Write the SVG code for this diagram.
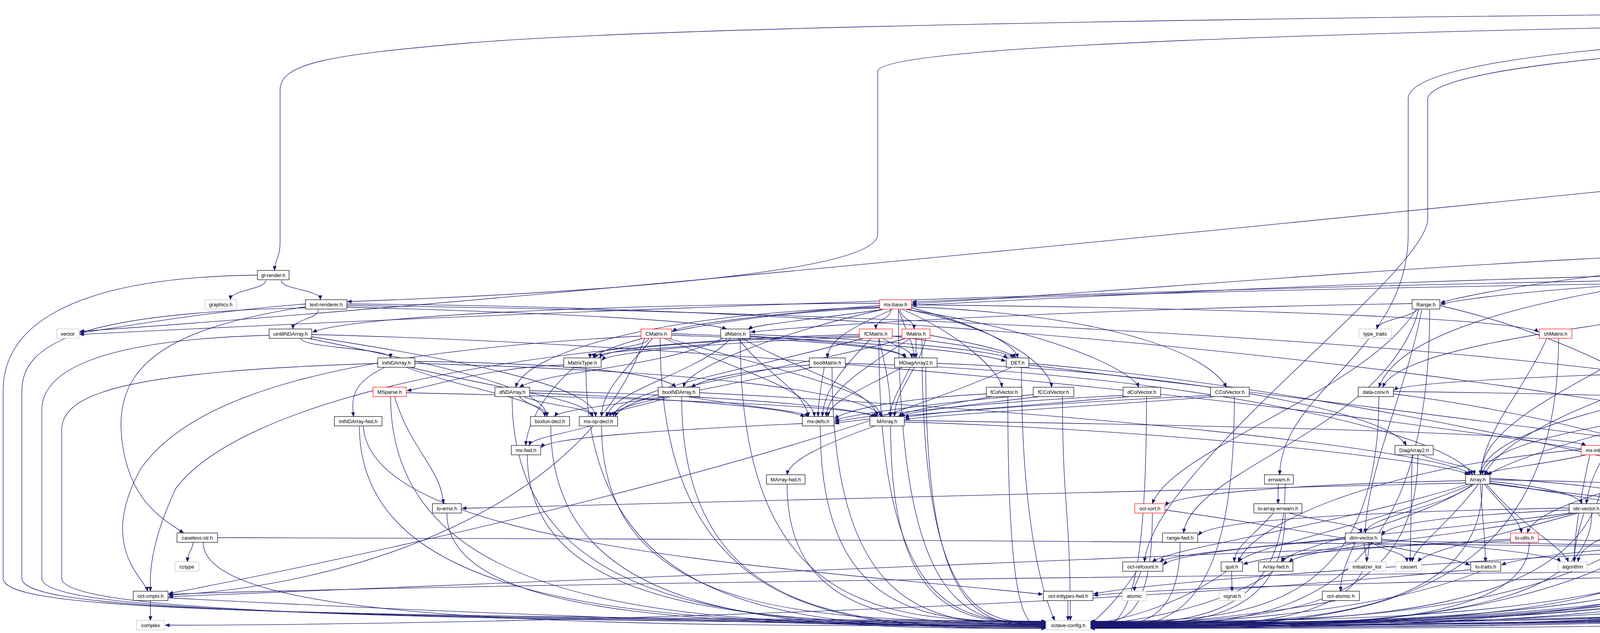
<svg xmlns="http://www.w3.org/2000/svg" width="7432" height="1620" viewBox="0 0 7432 1620">
<style>
.bg{fill:#fff}
#edges path{fill:none;stroke:#191970;stroke-width:1.3;marker-end:url(#ah)}
g.nd rect{fill:#fff;stroke-width:1.2}
g.n rect{stroke:#000}
g.r rect{stroke:#ff0000}
g.g rect{stroke:#bfbfbf}
g.root rect{fill:#bfbfbf;stroke:#000}
g.nd text{font-family:"Liberation Sans",Arial,Helvetica,sans-serif;font-size:13px;text-anchor:middle;fill:#000}
</style>
<defs>
<marker id="ah" markerUnits="userSpaceOnUse" markerWidth="12" markerHeight="9" refX="11" refY="4.5" orient="auto">
<path d="M0,0 L11,4.5 L0,9 Z" fill="#191970" stroke="#191970" stroke-width="0.8"/>
</marker>
</defs>
<rect class="bg" x="0" y="0" width="7432" height="1620"/>
<g id="edges">
<path d="M6760,46 C6760,70 6802,70 6802,96"/>
<path d="M6814,36 C7050,50 7300,90 7350,170"/>
<path d="M6808,46 C7000,90 7000,300 6990,692"/>
<path d="M6814,30 C7150,60 7160,120 7160,300 L7160,760 C7160,900 6700,1200 6020,1376"/>
<path d="M6740,46 C6740,700 5105,900 5105,1513"/>
<path d="M6720,46 C6720,800 4967,900 4967,1438"/>
<path d="M6685,22 C4000,30 1800,60 1200,110 C850,140 717,160 717,230 L717,620 C717,660 703,665 703,692"/>
<path d="M6685,28 C4500,60 2300,90 2247,180 L2247,600 C2247,700 1500,750 889,772"/>
<path d="M6685,34 C5000,60 3620,100 3605,250 L3605,600 C3605,900 3280,1000 3276,1215"/>
<path d="M6700,46 C6000,200 4450,600 4410,1215"/>
<path d="M6685,40 C5500,70 3700,110 3655,250 L3655,560 C3655,700 2950,1200 2930,1438"/>
<path d="M6735,110 C6300,115 5900,182 5702,182"/>
<path d="M6820,120 C6820,780 5870,780 5870,1438"/>
<path d="M6740,120 C5500,300 4500,600 4470,991"/>
<path d="M5675,194 C5675,220 5703,220 5703,245"/>
<path d="M5655,194 C5655,257 5619,257 5619,320"/>
<path d="M5640,194 C5640,294 4802,294 4802,394"/>
<path d="M5645,194 C5645,331 4867,331 4867,469"/>
<path d="M5627,185 C5000,200 4637,300 4637,469"/>
<path d="M5690,194 C5690,518 6022,518 6022,842"/>
<path d="M5695,194 C5695,406 6535,406 6535,618"/>
<path d="M5630,194 C5630,592 4462,592 4462,991"/>
<path d="M5685,194 C5685,592 5967,592 5967,991"/>
<path d="M5680,194 C5680,816 5861,816 5861,1438"/>
<path d="M5650,194 C5650,406 5093,406 5093,618"/>
<path d="M5690,269 C5690,295 5625,295 5625,320"/>
<path d="M5705,269 L5705,480 C5705,580 5300,610 5118,628"/>
<path d="M5666,255 C5200,260 4700,350 4650,469"/>
<path d="M5741,257 C5950,280 5880,900 5875,1438"/>
<path d="M5741,262 C5950,300 5970,700 5967,991"/>
<path d="M5612,344 C5612,369 5609,369 5609,394"/>
<path d="M5590,344 C5590,480 5100,480 5100,618"/>
<path d="M5573,332 C5000,340 4700,400 4645,469"/>
<path d="M5573,328 C5200,335 4900,380 4824,402"/>
<path d="M5573,336 C5200,380 5000,440 4898,476"/>
<path d="M5580,344 C5300,600 4500,700 4470,991"/>
<path d="M5660,344 C5660,900 5984,900 5984,1364"/>
<path d="M5650,344 C5650,900 5855,900 5855,1438"/>
<path d="M5640,344 C5640,700 5960,700 5960,991"/>
<path d="M5666,334 C6000,360 6022,600 6022,842"/>
<path d="M5666,330 C6300,350 6535,450 6535,618"/>
<path d="M5573,340 C4000,500 1500,760 204,848"/>
<path d="M5600,418 C5600,520 5093,520 5093,618"/>
<path d="M5571,404 C5000,410 4700,440 4664,474"/>
<path d="M5571,410 C5200,420 5000,460 4898,480"/>
<path d="M5585,418 C5400,700 4500,800 4478,991"/>
<path d="M5625,418 C5625,900 5990,900 5990,1364"/>
<path d="M5640,418 C5640,900 5865,900 5865,1438"/>
<path d="M4625,493 C4625,518 4568,518 4568,543"/>
<path d="M4650,493 C4650,556 5080,556 5080,618"/>
<path d="M4645,493 C4645,705 4840,705 4840,916"/>
<path d="M4662,482 C5300,500 5850,900 5858,1438"/>
<path d="M4625,493 C4500,600 4460,800 4455,991"/>
<path d="M4596,550 C4800,560 5070,590 5075,618"/>
<path d="M4575,567 C4575,741 4830,741 4830,916"/>
<path d="M4560,567 C4560,779 4452,779 4452,991"/>
<path d="M4545,567 C4400,900 3800,1000 3790,1215"/>
<path d="M5075,642 C5075,667 4900,667 4900,692"/>
<path d="M5088,642 C5088,667 5055,667 5055,692"/>
<path d="M5080,642 C5080,779 4855,779 4850,916"/>
<path d="M5095,642 C5095,779 5053,779 5053,916"/>
<path d="M5110,642 C5250,800 5240,950 5216,1066"/>
<path d="M5105,642 C5130,1000 5200,1100 5226,1364"/>
<path d="M5070,636 C4700,700 4500,800 4470,991"/>
<path d="M5085,642 C5000,1000 4650,1100 4642,1438"/>
<path d="M5116,630 C5700,700 5861,1000 5861,1438"/>
<path d="M5116,626 C5800,680 5984,1000 5984,1364"/>
<path d="M5116,622 C5800,640 5967,800 5967,991"/>
<path d="M5070,640 C4600,800 4100,1000 4061,1289"/>
<path d="M5070,632 C4200,700 3600,800 3530,991"/>
<path d="M5070,628 C4000,640 3000,740 2335,777"/>
<path d="M5070,630 C4300,660 3800,740 3688,775"/>
<path d="M4890,716 C4890,816 4850,816 4848,916"/>
<path d="M4910,716 C4910,816 5040,816 5040,916"/>
<path d="M4885,716 C4800,850 4500,900 4470,991"/>
<path d="M4905,716 C4950,1100 4650,1200 4645,1438"/>
<path d="M4939,700 C5800,800 6300,1100 6312,1438"/>
<path d="M4939,704 C5600,800 5850,1100 5856,1438"/>
<path d="M4939,708 C5700,800 5980,1000 5980,1364"/>
<path d="M4939,712 C5600,760 5960,850 5962,991"/>
<path d="M4860,700 C4300,710 3800,750 3688,779"/>
<path d="M4870,716 C4500,800 3600,850 3540,991"/>
<path d="M4860,696 C3800,700 2800,760 2335,781"/>
<path d="M4860,708 C3500,720 1500,790 204,856"/>
<path d="M4920,716 C5100,850 5200,950 5205,1066"/>
<path d="M4808,930 C4600,940 4500,970 4483,997"/>
<path d="M4830,940 C4700,1200 4650,1300 4640,1438"/>
<path d="M4880,935 C5400,1000 5840,1200 5850,1438"/>
<path d="M4808,936 C4200,1000 3800,1100 3790,1215"/>
<path d="M5006,928 C4700,935 4550,970 4483,1001"/>
<path d="M5065,940 C5065,1003 5210,1003 5210,1066"/>
<path d="M5030,940 C4800,1200 4660,1300 4650,1438"/>
<path d="M5090,940 C5500,1100 5850,1200 5852,1438"/>
<path d="M5100,925 C5700,935 5950,960 5960,991"/>
<path d="M5010,940 C4400,1050 3800,1100 3795,1215"/>
<path d="M5006,934 C4300,950 3600,970 3569,999"/>
<path d="M5020,940 C4500,1200 3950,1250 3910,1364"/>
<path d="M5240,1090 C5400,1300 5850,1350 5845,1438"/>
<path d="M4390,1239 C4390,1264 4330,1264 4330,1289"/>
<path d="M4450,1225 C5200,1240 5900,1300 5947,1364"/>
<path d="M4380,1239 C4300,1350 4050,1350 4040,1438"/>
<path d="M4940,1388 C4940,1413 4960,1413 4960,1438"/>
<path d="M4960,1388 C5050,1450 5100,1470 5105,1513"/>
<path d="M4890,1388 C4800,1420 4700,1430 4673,1446"/>
<path d="M4976,1378 C5500,1400 6200,1420 6281,1446"/>
<path d="M4976,1382 C5800,1400 7000,1500 7091,1598"/>
<path d="M4875,1376 C4000,1420 3000,1480 2800,1520"/>
<path d="M4875,1372 C4300,1380 3900,1420 3844,1446"/>
<path d="M4976,1374 C5400,1380 5800,1400 5832,1446"/>
<path d="M5186,1380 C4900,1400 4700,1430 4673,1450"/>
<path d="M5266,1380 C5600,1400 5800,1430 5832,1450"/>
<path d="M4967,1462 L4967,1513"/>
<path d="M4990,1462 C5040,1480 5090,1490 5100,1513"/>
<path d="M5016,1455 C6000,1480 7000,1560 7091,1596"/>
<path d="M4919,1458 C3000,1470 1000,1500 432,1521"/>
<path d="M4919,1462 C4000,1480 3000,1500 2800,1524"/>
<path d="M5003,1530 C6000,1560 7000,1590 7091,1602"/>
<path d="M6560,642 C6560,667 6586,667 6586,692"/>
<path d="M6579,632 C6800,650 6950,670 6960,692"/>
<path d="M6575,642 C6750,700 6720,850 6615,916"/>
<path d="M6510,642 C6350,900 6300,1300 5890,1448"/>
<path d="M6492,626 C5500,640 4600,900 4483,1005"/>
<path d="M6492,634 C5000,700 3900,1000 3800,1215"/>
<path d="M6492,630 C5600,660 4950,850 4882,920"/>
<path d="M6588,716 L6590,767"/>
<path d="M6570,716 C6520,760 6530,800 6538,842"/>
<path d="M6552,704 C5000,706 3000,740 2335,773"/>
<path d="M6010,866 C5990,1200 5900,1350 5870,1438"/>
<path d="M5973,860 C5000,880 4000,1100 3808,1215"/>
<path d="M5973,850 C5400,860 5000,900 4882,924"/>
<path d="M6564,928 C5500,940 4700,980 4483,999"/>
<path d="M6590,940 C6550,1200 6400,1350 6330,1438"/>
<path d="M815,792 C815,817 750,817 750,842"/>
<path d="M782,785 C500,830 300,900 310,1100 C320,1280 420,1330 470,1364"/>
<path d="M888,782 C2500,800 4000,900 4441,999"/>
<path d="M888,778 C3000,790 5000,1100 5832,1444"/>
<path d="M888,786 C1400,800 1800,820 1860,842"/>
<path d="M782,778 C500,800 300,840 204,852"/>
<path d="M680,718 C680,741 590,741 590,767"/>
<path d="M720,718 C720,741 820,741 820,767"/>
<path d="M770,866 C770,891 1000,891 1000,916"/>
<path d="M798,856 C2500,900 4800,1200 4900,1364"/>
<path d="M790,866 C1200,950 1400,1000 1400,1066"/>
<path d="M798,862 C1300,940 1520,1000 1525,1066"/>
<path d="M985,940 C900,980 900,1020 905,1066"/>
<path d="M1062,930 C1800,950 2200,1000 2260,1066"/>
<path d="M1062,925 C1500,930 1700,960 1730,991"/>
<path d="M1050,940 C1300,1000 1500,1020 1518,1066"/>
<path d="M1040,940 C1200,1000 1390,1020 1395,1066"/>
<path d="M1010,1015 C1050,1150 1130,1200 1135,1289"/>
<path d="M1040,1005 C1700,1020 2200,1040 2245,1066"/>
<path d="M1443,934 C1250,940 1100,990 1042,1000"/>
<path d="M1470,940 C1400,1000 1350,1080 1346,1140"/>
<path d="M1660,866 C1660,891 1510,891 1510,916"/>
<path d="M1670,866 C1600,950 1540,1000 1540,1066"/>
<path d="M1700,866 C1900,950 2080,1000 2085,1066"/>
<path d="M1710,866 C2000,950 2250,1000 2255,1066"/>
<path d="M1719,854 C2200,870 2500,900 2574,924"/>
<path d="M1719,858 C2100,870 2300,890 2320,916"/>
<path d="M1650,866 C1500,1300 900,1500 432,1523"/>
<path d="M1641,860 C900,900 500,1000 360,1200 C250,1400 370,1480 378,1513"/>
<path d="M1860,866 C1860,891 1520,891 1520,916"/>
<path d="M1850,866 C1700,940 1400,950 1330,991"/>
<path d="M1870,866 C1800,950 1560,1000 1555,1066"/>
<path d="M1890,866 C1950,950 2060,1000 2070,1066"/>
<path d="M1900,866 C2050,950 2240,1000 2245,1066"/>
<path d="M1920,856 C2300,870 2550,900 2580,916"/>
<path d="M1920,860 C2150,875 2310,890 2315,916"/>
<path d="M2200,860 C1800,870 1550,890 1535,916"/>
<path d="M2200,856 C1200,880 600,1050 450,1250 C380,1400 384,1480 385,1513"/>
<path d="M2260,866 C2300,891 2330,891 2335,916"/>
<path d="M2284,860 C2450,880 2580,900 2595,916"/>
<path d="M2230,866 C2150,950 2110,1000 2105,1066"/>
<path d="M2250,866 C2270,950 2280,1000 2280,1066"/>
<path d="M2210,866 C1900,950 1580,1000 1570,1066"/>
<path d="M2345,866 L2345,916"/>
<path d="M2381,858 C2500,880 2590,900 2600,916"/>
<path d="M2309,860 C1900,870 1560,900 1541,922"/>
<path d="M2330,866 C2200,950 2120,1000 2115,1066"/>
<path d="M2370,866 C2350,950 2290,1000 2290,1066"/>
<path d="M2320,866 C2000,950 1600,1000 1575,1066"/>
<path d="M2252,782 C2000,800 1750,830 1721,848"/>
<path d="M2260,792 C2100,815 1940,830 1915,842"/>
<path d="M2280,792 C2280,817 2242,817 2242,842"/>
<path d="M2305,792 C2305,817 2340,817 2340,842"/>
<path d="M2285,792 C2150,850 2120,880 2118,916"/>
<path d="M2252,788 C1900,800 1560,870 1520,916"/>
<path d="M2252,786 C1700,800 1350,900 1320,991"/>
<path d="M2260,792 C2000,850 1760,940 1750,991"/>
<path d="M2320,792 C2700,850 2900,950 2915,991"/>
<path d="M2333,785 C2900,810 3100,920 3140,991"/>
<path d="M2310,792 C2450,850 2560,950 2565,991"/>
<path d="M2325,792 C2600,850 2690,950 2692,991"/>
<path d="M2333,780 C3300,790 3900,820 3939,850"/>
<path d="M2333,788 C2500,830 2600,880 2605,916"/>
<path d="M2300,792 C2320,850 2340,880 2340,916"/>
<path d="M2252,776 C1500,780 900,810 800,850"/>
<path d="M2072,934 C1900,950 1800,970 1770,991"/>
<path d="M2110,940 C2100,1000 2095,1030 2094,1066"/>
<path d="M2080,940 C1800,1000 1580,1030 1560,1066"/>
<path d="M2164,930 C3000,950 3700,1100 3770,1215"/>
<path d="M2399,930 C3000,950 3550,1050 3600,1140"/>
<path d="M2330,940 C2300,1000 2280,1030 2278,1066"/>
<path d="M2310,940 C2200,1000 2120,1030 2120,1066"/>
<path d="M2590,940 C2000,1200 800,1450 432,1519"/>
<path d="M2634,930 C3500,1000 4800,1300 4940,1438"/>
<path d="M2634,934 C4000,1100 6800,1450 7091,1592"/>
<path d="M1330,1015 C1350,1040 1400,1040 1400,1066"/>
<path d="M1340,1015 C1400,1040 1510,1040 1515,1066"/>
<path d="M1356,1005 C1700,1020 2000,1040 2060,1066"/>
<path d="M1356,1000 C1800,1010 2200,1040 2240,1068"/>
<path d="M1700,1015 C1550,1040 1430,1050 1420,1066"/>
<path d="M1715,1015 C1650,1040 1560,1050 1550,1066"/>
<path d="M1760,1015 C1900,1040 2050,1050 2070,1066"/>
<path d="M1791,1005 C2700,1050 3700,1150 3765,1215"/>
<path d="M2540,1015 C2400,1040 2320,1050 2300,1066"/>
<path d="M2525,1008 C2300,1020 2160,1050 2137,1072"/>
<path d="M2660,1015 C2450,1040 2320,1055 2305,1066"/>
<path d="M2645,1010 C2400,1030 2180,1060 2137,1076"/>
<path d="M2890,1015 C2600,1040 2330,1060 2317,1070"/>
<path d="M2875,1012 C2500,1030 2200,1065 2137,1080"/>
<path d="M3110,1015 C2800,1040 2340,1065 2317,1074"/>
<path d="M3099,1012 C2700,1030 2200,1070 2137,1084"/>
<path d="M1510,1090 C1450,1110 1360,1120 1355,1140"/>
<path d="M2054,1084 C1700,1100 1400,1120 1386,1146"/>
<path d="M2240,1090 C2100,1140 2020,1180 2015,1215"/>
<path d="M2315,1080 C3000,1100 3700,1180 3760,1215"/>
<path d="M2315,1076 C3200,1090 4000,1110 4060,1140"/>
<path d="M930,1091 C950,1400 2000,1450 2669,1521"/>
<path d="M495,1388 C490,1413 480,1413 480,1438"/>
<path d="M557,1376 C2000,1380 5000,1390 5832,1442"/>
<path d="M385,1537 L385,1588"/>
<path d="M3630,792 C3600,817 3530,817 3525,842"/>
<path d="M3615,777 C2800,790 2100,830 1922,850"/>
<path d="M3640,792 C3600,1000 3500,1200 3495,1364"/>
<path d="M3625,792 C3500,1000 3000,1150 2950,1289"/>
<path d="M3632,792 C3550,1100 3050,1200 3030,1364"/>
<path d="M3686,782 C4200,900 4600,1200 4630,1438"/>
<path d="M3960,866 C3900,1000 3800,1100 3790,1215"/>
<path d="M3567,1002 C4300,1010 5000,1040 5169,1072"/>
<path d="M3567,1008 C4300,1100 5000,1400 5080,1513"/>
<path d="M3640,1164 C3700,1190 3770,1190 3775,1215"/>
<path d="M3615,1164 L3610,1438"/>
<path d="M4060,1164 C3950,1190 3820,1200 3800,1215"/>
<path d="M4070,1164 C4040,1300 4030,1380 4030,1438"/>
<path d="M4048,1150 C3500,1200 3200,1350 3170,1438"/>
<path d="M4140,1164 C4400,1250 4850,1300 4900,1364"/>
<path d="M4146,1156 C4300,1170 4380,1190 4395,1215"/>
<path d="M3272,1239 L3272,1289"/>
<path d="M3752,1230 C3300,1240 3000,1265 2984,1295"/>
<path d="M3814,1232 C3950,1245 4040,1265 4050,1289"/>
<path d="M3770,1239 C3700,1300 3500,1320 3495,1364"/>
<path d="M3800,1239 C3850,1300 3890,1330 3895,1364"/>
<path d="M3760,1239 C3400,1350 3000,1400 2950,1438"/>
<path d="M3770,1239 C3500,1350 3200,1400 3170,1438"/>
<path d="M3775,1239 C3600,1350 3300,1400 3280,1438"/>
<path d="M3785,1239 C3700,1350 3620,1400 3615,1438"/>
<path d="M3790,1239 C3795,1340 3800,1340 3803,1438"/>
<path d="M3805,1239 C3900,1350 4000,1400 4015,1438"/>
<path d="M3752,1236 C2500,1260 1500,1290 1183,1301"/>
<path d="M3814,1236 C4300,1300 4600,1400 4611,1446"/>
<path d="M3814,1228 C4800,1240 5700,1380 5832,1440"/>
<path d="M3814,1224 C4100,1240 4250,1270 4281,1295"/>
<path d="M3814,1238 C4300,1300 4900,1340 4999,1370"/>
<path d="M2982,1305 C3300,1350 3700,1420 3763,1446"/>
<path d="M3300,1313 C3400,1340 3480,1340 3485,1364"/>
<path d="M3260,1313 C3200,1380 3160,1400 3160,1438"/>
<path d="M4030,1313 C3700,1380 3350,1400 3300,1438"/>
<path d="M4017,1305 C3700,1320 3550,1340 3539,1370"/>
<path d="M4017,1300 C3500,1310 3100,1330 3068,1370"/>
<path d="M4105,1302 C4500,1320 4850,1340 4880,1364"/>
<path d="M4020,1313 C3500,1380 3000,1410 2970,1438"/>
<path d="M4090,1313 C4150,1400 4185,1450 4188,1513"/>
<path d="M4040,1313 C3800,1380 3650,1410 3630,1438"/>
<path d="M4055,1313 C4040,1360 4030,1400 4030,1438"/>
<path d="M4105,1306 C5000,1330 5800,1360 5947,1372"/>
<path d="M4105,1310 C4400,1380 4600,1410 4620,1438"/>
<path d="M3492,1388 C3492,1413 3499,1413 3499,1438"/>
<path d="M3510,1388 C3550,1413 3600,1413 3602,1438"/>
<path d="M3537,1380 C3800,1400 3980,1420 3995,1438"/>
<path d="M3470,1388 C3400,1413 3290,1413 3285,1438"/>
<path d="M3444,1380 C3200,1400 3000,1420 2979,1446"/>
<path d="M3470,1388 C3440,1450 3432,1480 3432,1513"/>
<path d="M3537,1384 C4500,1400 5500,1430 5832,1448"/>
<path d="M3867,1384 C2500,1450 1000,1510 432,1527"/>
<path d="M3867,1380 C3500,1400 3250,1420 3183,1444"/>
<path d="M3938,1380 C4800,1400 5600,1430 5832,1452"/>
<path d="M2920,1462 C2915,1488 2905,1488 2904,1513"/>
<path d="M3153,1462 L3154,1513"/>
<path d="M3765,1458 C2500,1580 900,1600 423,1600"/>
<path d="M2910,1462 C2850,1550 2810,1580 2792,1598"/>
<path d="M3140,1462 C3000,1560 2850,1590 2792,1596"/>
<path d="M3260,1462 C3100,1570 2850,1595 2792,1600"/>
<path d="M3790,1462 C3500,1580 3000,1598 2792,1602"/>
<path d="M2734,1537 L2734,1588"/>
<path d="M3420,1537 C3200,1580 2900,1602 2792,1604"/>
<path d="M4170,1537 C3800,1590 3000,1606 2792,1606"/>
<path d="M430,1530 C1000,1560 2000,1604 2677,1604"/>
<path d="M659,704 C150,710 8,850 8,1000 L8,1480 C8,1560 600,1575 2677,1590"/>
<path d="M782,788 C200,800 56,880 56,1000 L56,1480 C56,1560 700,1580 2677,1592"/>
<path d="M689,858 C250,870 107,950 107,1050 L107,1480 C107,1560 800,1585 2677,1594"/>
<path d="M967,930 C350,950 158,1000 158,1100 L158,1480 C158,1560 900,1590 2677,1596"/>
<path d="M920,1091 C920,1598 1800,1598 2677,1598"/>
<path d="M1000,1015 C1000,1600 1840,1600 2677,1600"/>
<path d="M520,1388 C520,1602 1600,1602 2677,1602"/>
<path d="M1500,940 C1500,1606 2090,1606 2677,1606"/>
<path d="M1690,866 C1690,1608 2185,1608 2677,1608"/>
<path d="M1895,866 C1895,1590 2287,1590 2677,1590"/>
<path d="M2250,866 C2250,1592 2465,1592 2677,1592"/>
<path d="M2360,866 C2360,1594 2520,1594 2677,1594"/>
<path d="M2300,792 C2300,1596 2490,1596 2677,1596"/>
<path d="M2130,940 C2130,1598 2405,1598 2677,1598"/>
<path d="M2370,940 C2370,1600 2520,1600 2677,1600"/>
<path d="M2615,940 C2615,1300 2660,1500 2700,1588"/>
<path d="M1311,1015 C1311,1602 1995,1602 2677,1602"/>
<path d="M1745,1015 C1745,1604 2212,1604 2677,1604"/>
<path d="M2580,1015 C2580,1606 2630,1606 2677,1606"/>
<path d="M1410,1090 C1410,1608 2045,1608 2677,1608"/>
<path d="M1540,1090 C1540,1590 2110,1590 2677,1590"/>
<path d="M2100,1090 C2100,1592 2390,1592 2677,1592"/>
<path d="M2280,1090 C2280,1594 2480,1594 2677,1594"/>
<path d="M1350,1164 C1350,1596 2015,1596 2677,1596"/>
<path d="M2015,1239 C2015,1598 2347,1598 2677,1598"/>
<path d="M1144,1313 C1144,1600 1912,1600 2677,1600"/>
<path d="M2720,1015 C2720,1300 2740,1300 2740,1588"/>
<path d="M7380,194 C7380,1600 5085,1600 2792,1600"/>
<path d="M6850,120 C6850,1602 4820,1602 2792,1602"/>
<path d="M5660,194 C5660,1594 4225,1594 2792,1594"/>
<path d="M5720,269 C5720,1596 4255,1596 2792,1596"/>
<path d="M5640,344 C5640,1598 4215,1598 2792,1598"/>
<path d="M5620,418 C5620,1604 4205,1604 2792,1604"/>
<path d="M4650,493 C4650,1606 3720,1606 2792,1606"/>
<path d="M4580,567 C4580,1592 3685,1592 2792,1592"/>
<path d="M5100,642 C5100,1608 3945,1608 2792,1608"/>
<path d="M4915,716 C4915,1590 3852,1590 2792,1590"/>
<path d="M4860,940 C4860,1594 3825,1594 2792,1594"/>
<path d="M5070,940 C5070,1596 3930,1596 2792,1596"/>
<path d="M5230,1090 C5230,1598 4010,1598 2792,1598"/>
<path d="M4420,1239 C4420,1600 3605,1600 2792,1600"/>
<path d="M4950,1388 C4950,1602 3870,1602 2792,1602"/>
<path d="M5240,1388 C5240,1604 4015,1604 2792,1604"/>
<path d="M4990,1462 C4990,1606 3890,1606 2792,1606"/>
<path d="M4985,1537 C4985,1608 3887,1608 2792,1608"/>
<path d="M6550,642 C6550,1592 4670,1592 2792,1592"/>
<path d="M6600,716 C6600,1594 4695,1594 2792,1594"/>
<path d="M6040,866 C6040,1596 4415,1596 2792,1596"/>
<path d="M6560,866 C6560,1598 4675,1598 2792,1598"/>
<path d="M6620,940 C6620,1600 4705,1600 2792,1600"/>
<path d="M3660,792 C3660,1602 3225,1602 2792,1602"/>
<path d="M3990,866 C3990,1604 3390,1604 2792,1604"/>
<path d="M2935,1015 C2935,1606 2862,1606 2792,1606"/>
<path d="M3160,1015 C3160,1608 2975,1608 2792,1608"/>
<path d="M3530,1015 C3530,1590 3160,1590 2792,1590"/>
<path d="M3630,1164 C3630,1592 3210,1592 2792,1592"/>
<path d="M4110,1164 C4110,1594 3450,1594 2792,1594"/>
<path d="M3290,1239 C3290,1596 3040,1596 2792,1596"/>
<path d="M3795,1239 C3795,1598 3292,1598 2792,1598"/>
<path d="M2950,1313 C2950,1594 2870,1594 2792,1594"/>
<path d="M3290,1313 C3290,1600 3040,1600 2792,1600"/>
<path d="M4075,1313 C4075,1602 3432,1602 2792,1602"/>
<path d="M3021,1388 C3021,1604 2905,1604 2792,1604"/>
<path d="M3505,1388 C3505,1606 3147,1606 2792,1606"/>
<path d="M3915,1388 C3915,1608 3352,1608 2792,1608"/>
</g>
<g id="n-root" class="nd root"><rect x="6685" y="6" width="129" height="39"/><text x="6749.5" y="21">libinterp/corefcn/gl</text><text x="6749.5" y="37">-render.cc</text></g>
<g id="n-interpreter-private" class="nd n"><rect x="6735" y="96" width="134" height="24"/><text x="6802" y="112.5">interpreter-private.h</text></g>
<g id="n-oct-opengl" class="nd n"><rect x="7312" y="170" width="92" height="24"/><text x="7358" y="186.5">oct-opengl.h</text></g>
<g id="n-symtab" class="nd n"><rect x="5627" y="170" width="73" height="24"/><text x="5663.5" y="186.5">symtab.h</text></g>
<g id="n-fcn-info" class="nd n"><rect x="5666" y="245" width="75" height="24"/><text x="5703.5" y="261.5">fcn-info.h</text></g>
<g id="n-symscope" class="nd n"><rect x="5573" y="320" width="93" height="24"/><text x="5619.5" y="336.5">symscope.h</text></g>
<g id="n-symrec" class="nd n"><rect x="5571" y="394" width="76" height="24"/><text x="5609" y="410.5">symrec.h</text></g>
<g id="n-set" class="nd g"><rect x="4782" y="394" width="40" height="24"/><text x="4802" y="410.5">set</text></g>
<g id="n-ovl" class="nd n"><rect x="4612" y="469" width="50" height="24"/><text x="4637" y="485.5">ovl.h</text></g>
<g id="n-deque" class="nd g"><rect x="4839" y="469" width="57" height="24"/><text x="4867.5" y="485.5">deque</text></g>
<g id="n-Cell" class="nd n"><rect x="4540" y="543" width="56" height="24"/><text x="4568" y="559.5">Cell.h</text></g>
<g id="n-ov" class="nd n"><rect x="5070" y="618" width="46" height="24"/><text x="5093" y="634.5">ov.h</text></g>
<g id="n-lo-regexp" class="nd n"><rect x="6492" y="618" width="87" height="24"/><text x="6535.5" y="634.5">lo-regexp.h</text></g>
<g id="n-ov-base" class="nd r"><rect x="4860" y="692" width="79" height="24"/><text x="4899.5" y="708.5">ov-base.h</text></g>
<g id="n-mxtypes" class="nd g"><rect x="5014" y="692" width="82" height="24"/><text x="5055" y="708.5">mxtypes.h</text></g>
<g id="n-Matrix" class="nd n"><rect x="6552" y="692" width="68" height="24"/><text x="6586" y="708.5">Matrix.h</text></g>
<g id="n-sstream" class="nd g"><rect x="6950" y="692" width="68" height="24"/><text x="6984" y="708.5">sstream</text></g>
<g id="n-gl-render-h" class="nd n"><rect x="659" y="692" width="81" height="24"/><text x="699.5" y="708.5">gl-render.h</text></g>
<g id="n-mx-base" class="nd r"><rect x="2252" y="767" width="81" height="24"/><text x="2292.5" y="783.5">mx-base.h</text></g>
<g id="n-Range" class="nd n"><rect x="3615" y="767" width="71" height="24"/><text x="3650.5" y="783.5">Range.h</text></g>
<g id="n-mx-ops" class="nd g"><rect x="6552" y="767" width="77" height="24"/><text x="6590.5" y="783.5">mx-ops.h</text></g>
<g id="n-graphics" class="nd g"><rect x="524" y="767" width="82" height="24"/><text x="565" y="783.5">graphics.h</text></g>
<g id="n-text-renderer" class="nd n"><rect x="782" y="767" width="106" height="24"/><text x="835" y="783.5">text-renderer.h</text></g>
<g id="n-CMatrix" class="nd r"><rect x="1641" y="842" width="78" height="24"/><text x="1680" y="858.5">CMatrix.h</text></g>
<g id="n-dMatrix" class="nd n"><rect x="1845" y="842" width="75" height="24"/><text x="1882.5" y="858.5">dMatrix.h</text></g>
<g id="n-fCMatrix" class="nd r"><rect x="2200" y="842" width="84" height="24"/><text x="2242" y="858.5">fCMatrix.h</text></g>
<g id="n-fMatrix" class="nd r"><rect x="2309" y="842" width="72" height="24"/><text x="2345" y="858.5">fMatrix.h</text></g>
<g id="n-type_traits" class="nd g"><rect x="3479" y="842" width="83" height="24"/><text x="3520.5" y="858.5">type_traits</text></g>
<g id="n-chMatrix" class="nd r"><rect x="3941" y="842" width="83" height="24"/><text x="3982.5" y="858.5">chMatrix.h</text></g>
<g id="n-glob-match" class="nd n"><rect x="5973" y="842" width="98" height="24"/><text x="6022" y="858.5">glob-match.h</text></g>
<g id="n-mx-ext" class="nd r"><rect x="6501" y="842" width="75" height="24"/><text x="6538.5" y="858.5">mx-ext.h</text></g>
<g id="n-vector" class="nd g"><rect x="145" y="842" width="57" height="24"/><text x="173.5" y="858.5">vector</text></g>
<g id="n-uint8NDArray" class="nd n"><rect x="689" y="842" width="109" height="24"/><text x="743.5" y="858.5">uint8NDArray.h</text></g>
<g id="n-MatrixType" class="nd n"><rect x="1443" y="916" width="96" height="24"/><text x="1491" y="932.5">MatrixType.h</text></g>
<g id="n-boolMatrix" class="nd n"><rect x="2072" y="916" width="92" height="24"/><text x="2118" y="932.5">boolMatrix.h</text></g>
<g id="n-MDiagArray2" class="nd n"><rect x="2290" y="916" width="109" height="24"/><text x="2344.5" y="932.5">MDiagArray2.h</text></g>
<g id="n-DET" class="nd n"><rect x="2576" y="916" width="58" height="24"/><text x="2605" y="932.5">DET.h</text></g>
<g id="n-intNDArray" class="nd n"><rect x="967" y="916" width="95" height="24"/><text x="1014.5" y="932.5">intNDArray.h</text></g>
<g id="n-str-vec" class="nd n"><rect x="4808" y="916" width="72" height="24"/><text x="4844" y="932.5">str-vec.h</text></g>
<g id="n-oct-stream" class="nd r"><rect x="5006" y="916" width="94" height="24"/><text x="5053" y="932.5">oct-stream.h</text></g>
<g id="n-base-list" class="nd n"><rect x="6564" y="916" width="82" height="24"/><text x="6605" y="932.5">base-list.h</text></g>
<g id="n-MSparse" class="nd r"><rect x="955" y="991" width="85" height="24"/><text x="997.5" y="1007.5">MSparse.h</text></g>
<g id="n-dNDArray" class="nd n"><rect x="1267" y="991" width="89" height="24"/><text x="1311.5" y="1007.5">dNDArray.h</text></g>
<g id="n-boolNDArray" class="nd n"><rect x="1685" y="991" width="106" height="24"/><text x="1738" y="1007.5">boolNDArray.h</text></g>
<g id="n-fColVector" class="nd n"><rect x="2525" y="991" width="91" height="24"/><text x="2570.5" y="1007.5">fColVector.h</text></g>
<g id="n-fCColVector" class="nd n"><rect x="2645" y="991" width="104" height="24"/><text x="2697" y="1007.5">fCColVector.h</text></g>
<g id="n-dColVector" class="nd n"><rect x="2875" y="991" width="96" height="24"/><text x="2923" y="1007.5">dColVector.h</text></g>
<g id="n-CColVector" class="nd n"><rect x="3099" y="991" width="99" height="24"/><text x="3148.5" y="1007.5">CColVector.h</text></g>
<g id="n-data-conv" class="nd n"><rect x="3477" y="991" width="90" height="24"/><text x="3522" y="1007.5">data-conv.h</text></g>
<g id="n-list" class="nd g"><rect x="4443" y="991" width="38" height="24"/><text x="4462" y="1007.5">list</text></g>
<g id="n-map" class="nd g"><rect x="5944" y="991" width="47" height="24"/><text x="5967.5" y="1007.5">map</text></g>
<g id="n-bsxfun-decl" class="nd n"><rect x="1358" y="1066" width="100" height="24"/><text x="1408" y="1082.5">bsxfun-decl.h</text></g>
<g id="n-mx-op-decl" class="nd n"><rect x="1483" y="1066" width="98" height="24"/><text x="1532" y="1082.5">mx-op-decl.h</text></g>
<g id="n-mx-defs" class="nd n"><rect x="2054" y="1066" width="81" height="24"/><text x="2094.5" y="1082.5">mx-defs.h</text></g>
<g id="n-MArray" class="nd n"><rect x="2227" y="1066" width="88" height="24"/><text x="2271" y="1082.5">MArray.h</text></g>
<g id="n-mach-info" class="nd n"><rect x="5171" y="1066" width="90" height="24"/><text x="5216" y="1082.5">mach-info.h</text></g>
<g id="n-intNDArray-fwd" class="nd n"><rect x="856" y="1066" width="122" height="24"/><text x="917" y="1082.5">intNDArray-fwd.h</text></g>
<g id="n-mx-fwd" class="nd n"><rect x="1309" y="1140" width="75" height="24"/><text x="1346.5" y="1156.5">mx-fwd.h</text></g>
<g id="n-DiagArray2" class="nd n"><rect x="3571" y="1140" width="98" height="24"/><text x="3620" y="1156.5">DiagArray2.h</text></g>
<g id="n-mx-inlines" class="nd r"><rect x="4048" y="1140" width="98" height="24"/><text x="4097" y="1156.5">mx-inlines.cc</text></g>
<g id="n-MArray-fwd" class="nd n"><rect x="1962" y="1215" width="99" height="24"/><text x="2011.5" y="1231.5">MArray-fwd.h</text></g>
<g id="n-errwarn" class="nd n"><rect x="3237" y="1215" width="74" height="24"/><text x="3274" y="1231.5">errwarn.h</text></g>
<g id="n-Array" class="nd n"><rect x="3752" y="1215" width="62" height="24"/><text x="3783" y="1231.5">Array.h</text></g>
<g id="n-oct-locbuf" class="nd n"><rect x="4361" y="1215" width="89" height="24"/><text x="4405.5" y="1231.5">oct-locbuf.h</text></g>
<g id="n-lo-error" class="nd n"><rect x="1107" y="1289" width="74" height="24"/><text x="1144" y="1305.5">lo-error.h</text></g>
<g id="n-oct-sort" class="nd r"><rect x="2905" y="1289" width="77" height="24"/><text x="2943.5" y="1305.5">oct-sort.h</text></g>
<g id="n-lo-array-errwarn" class="nd n"><rect x="3210" y="1289" width="123" height="24"/><text x="3271.5" y="1305.5">lo-array-errwarn.h</text></g>
<g id="n-idx-vector" class="nd n"><rect x="4017" y="1289" width="88" height="24"/><text x="4061" y="1305.5">idx-vector.h</text></g>
<g id="n-cstddef" class="nd g"><rect x="4283" y="1289" width="64" height="24"/><text x="4315" y="1305.5">cstddef</text></g>
<g id="n-range-fwd" class="nd n"><rect x="2976" y="1364" width="90" height="24"/><text x="3021" y="1380.5">range-fwd.h</text></g>
<g id="n-dim-vector" class="nd n"><rect x="3444" y="1364" width="93" height="24"/><text x="3490.5" y="1380.5">dim-vector.h</text></g>
<g id="n-lo-utils" class="nd r"><rect x="3867" y="1364" width="71" height="24"/><text x="3902.5" y="1380.5">lo-utils.h</text></g>
<g id="n-oct-inttypes" class="nd n"><rect x="4875" y="1364" width="101" height="24"/><text x="4925.5" y="1380.5">oct-inttypes.h</text></g>
<g id="n-cstring" class="nd g"><rect x="5001" y="1364" width="61" height="24"/><text x="5031.5" y="1380.5">cstring</text></g>
<g id="n-oct-time" class="nd n"><rect x="5186" y="1364" width="80" height="24"/><text x="5226" y="1380.5">oct-time.h</text></g>
<g id="n-memory" class="nd g"><rect x="5949" y="1364" width="71" height="24"/><text x="5984.5" y="1380.5">memory</text></g>
<g id="n-caseless-str" class="nd n"><rect x="453" y="1364" width="104" height="24"/><text x="505" y="1380.5">caseless-str.h</text></g>
<g id="n-oct-refcount" class="nd n"><rect x="2874" y="1438" width="103" height="24"/><text x="2925.5" y="1454.5">oct-refcount.h</text></g>
<g id="n-quit" class="nd n"><rect x="3126" y="1438" width="55" height="24"/><text x="3153.5" y="1454.5">quit.h</text></g>
<g id="n-Array-fwd" class="nd n"><rect x="3222" y="1438" width="88" height="24"/><text x="3266" y="1454.5">Array-fwd.h</text></g>
<g id="n-initializer_list" class="nd g"><rect x="3451" y="1438" width="97" height="24"/><text x="3499.5" y="1454.5">initializer_list</text></g>
<g id="n-cassert" class="nd g"><rect x="3573" y="1438" width="67" height="24"/><text x="3606.5" y="1454.5">cassert</text></g>
<g id="n-lo-traits" class="nd n"><rect x="3765" y="1438" width="77" height="24"/><text x="3803.5" y="1454.5">lo-traits.h</text></g>
<g id="n-algorithm" class="nd g"><rect x="3989" y="1438" width="74" height="24"/><text x="4026" y="1454.5">algorithm</text></g>
<g id="n-iosfwd" class="nd g"><rect x="4613" y="1438" width="58" height="24"/><text x="4642" y="1454.5">iosfwd</text></g>
<g id="n-lo-mappers" class="nd n"><rect x="4919" y="1438" width="97" height="24"/><text x="4967.5" y="1454.5">lo-mappers.h</text></g>
<g id="n-string" class="nd g"><rect x="5834" y="1438" width="54" height="24"/><text x="5861" y="1454.5">string</text></g>
<g id="n-cstdlib" class="nd g"><rect x="6283" y="1438" width="59" height="24"/><text x="6312.5" y="1454.5">cstdlib</text></g>
<g id="n-cctype" class="nd g"><rect x="448" y="1438" width="61" height="24"/><text x="478.5" y="1454.5">cctype</text></g>
<g id="n-oct-inttypes-fwd" class="nd n"><rect x="2671" y="1513" width="127" height="24"/><text x="2734.5" y="1529.5">oct-inttypes-fwd.h</text></g>
<g id="n-atomic" class="nd g"><rect x="2873" y="1513" width="62" height="24"/><text x="2904" y="1529.5">atomic</text></g>
<g id="n-signal" class="nd g"><rect x="3122" y="1513" width="65" height="24"/><text x="3154.5" y="1529.5">signal.h</text></g>
<g id="n-oct-atomic" class="nd n"><rect x="3385" y="1513" width="95" height="24"/><text x="3432.5" y="1529.5">oct-atomic.h</text></g>
<g id="n-Sparse-fwd" class="nd n"><rect x="4143" y="1513" width="95" height="24"/><text x="4190.5" y="1529.5">Sparse-fwd.h</text></g>
<g id="n-lo-ieee" class="nd n"><rect x="4933" y="1513" width="70" height="24"/><text x="4968" y="1529.5">lo-ieee.h</text></g>
<g id="n-limits" class="nd g"><rect x="5078" y="1513" width="54" height="24"/><text x="5105" y="1529.5">limits</text></g>
<g id="n-oct-cmplx" class="nd n"><rect x="341" y="1513" width="89" height="24"/><text x="385.5" y="1529.5">oct-cmplx.h</text></g>
<g id="n-octave-config" class="nd g"><rect x="2679" y="1588" width="111" height="24"/><text x="2734.5" y="1604.5">octave-config.h</text></g>
<g id="n-cmath" class="nd g"><rect x="7093" y="1588" width="59" height="24"/><text x="7122.5" y="1604.5">cmath</text></g>
<g id="n-complex" class="nd g"><rect x="350" y="1588" width="71" height="24"/><text x="385.5" y="1604.5">complex</text></g>
</svg>
